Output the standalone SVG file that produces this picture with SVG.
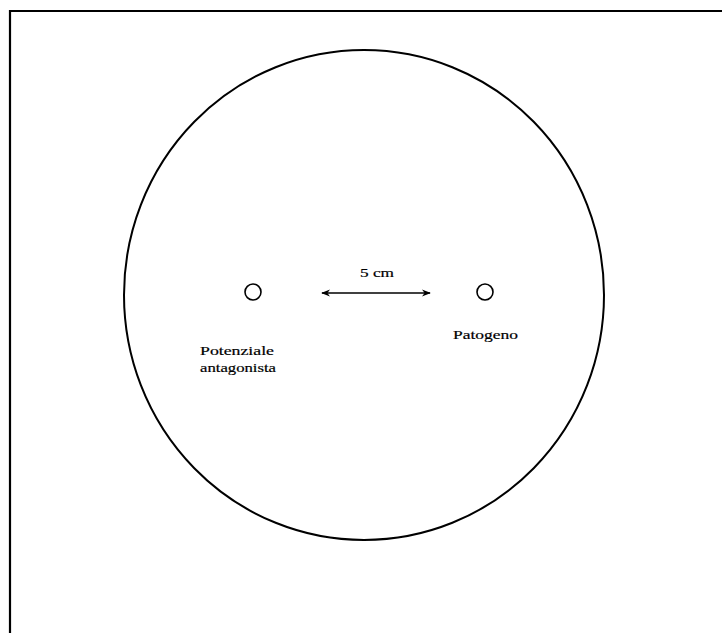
<svg xmlns="http://www.w3.org/2000/svg" width="722" height="633" viewBox="0 0 722 633">
<style>
.t{font-family:"Liberation Serif","DejaVu Serif",serif;font-size:13px;fill:#000;stroke:#000;stroke-width:0.2}
.s{fill:none;stroke:#000}
</style>
<defs>
<marker id="ah" viewBox="0 0 10 10" refX="9" refY="5" markerWidth="9" markerHeight="9" orient="auto-start-reverse" markerUnits="userSpaceOnUse">
<path d="M0,1 L10,5 L0,9 L3,5 Z" fill="#000"/>
</marker>
</defs>
<rect width="722" height="633" fill="#fff"/>
<g id="frame"><path class="s" d="M10,633 V11 H722" stroke-width="2.2"/></g>
<g id="plate"><ellipse class="s" cx="364" cy="295" rx="240" ry="245" stroke-width="2"/></g>
<g id="antagonista">
<circle class="s" cx="253" cy="292" r="8" stroke-width="1.6"/>
<text class="t" x="200" y="355" textLength="74" lengthAdjust="spacingAndGlyphs">Potenziale</text>
<text class="t" x="200" y="372" textLength="76" lengthAdjust="spacingAndGlyphs">antagonista</text>
</g>
<g id="patogeno">
<circle class="s" cx="485" cy="292" r="8" stroke-width="1.6"/>
<text class="t" x="453" y="339" textLength="65" lengthAdjust="spacingAndGlyphs">Patogeno</text>
</g>
<g id="connectors">
<line class="s" x1="322" y1="293" x2="430" y2="293" stroke-width="1.5" marker-start="url(#ah)" marker-end="url(#ah)"/>
<text class="t" x="360" y="277" font-size="12" textLength="34" lengthAdjust="spacingAndGlyphs">5 cm</text>
</g>
</svg>
